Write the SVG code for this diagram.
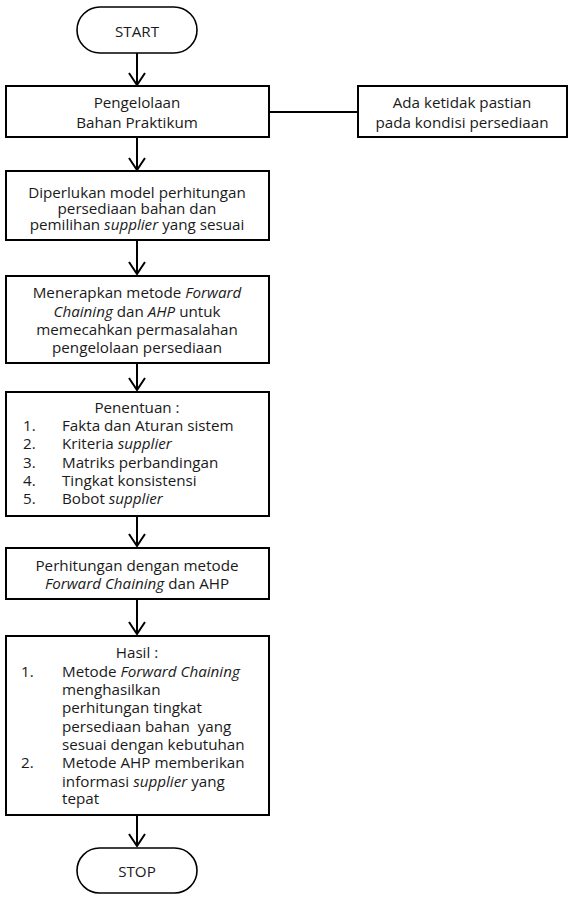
<svg xmlns="http://www.w3.org/2000/svg" width="569" height="897" viewBox="0 0 569 897">
<defs>
<style>
.box{fill:#fff;stroke:#000;stroke-width:2}
.term{fill:#fff;stroke:#000;stroke-width:1.6}
.ln{stroke:#000;stroke-width:2;fill:none}
.arr{stroke:#000;stroke-width:2;fill:none}
text{font-family:"Open Sans","Noto Sans",sans-serif;font-size:15.2px;fill:#1a1a1a}
.c{text-anchor:middle}
.i{font-style:italic}
</style>
<marker id="ah" viewBox="0 0 14 20" refX="13" refY="10" markerWidth="14" markerHeight="20" markerUnits="userSpaceOnUse" orient="auto">
<path d="M1,2 L13,10 L1,18" fill="none" stroke="#000" stroke-width="2"/>
</marker>
</defs>
<rect width="569" height="897" fill="#fff"/>
<g id="connectors">
<line class="arr" x1="137" y1="53" x2="137" y2="85" marker-end="url(#ah)"/>
<line class="arr" x1="137" y1="137" x2="137" y2="170" marker-end="url(#ah)"/>
<line class="arr" x1="137" y1="240" x2="137" y2="274" marker-end="url(#ah)"/>
<line class="arr" x1="137" y1="363" x2="137" y2="390" marker-end="url(#ah)"/>
<line class="arr" x1="137" y1="516" x2="137" y2="546" marker-end="url(#ah)"/>
<line class="arr" x1="137" y1="599" x2="137" y2="634" marker-end="url(#ah)"/>
<line class="arr" x1="137" y1="815" x2="137" y2="846" marker-end="url(#ah)"/>
<line class="ln" x1="269" y1="112" x2="358" y2="112"/>
</g>
<g id="start">
<rect class="term" x="77" y="7" width="120" height="46" rx="23" ry="23"/>
<text class="c" x="137" y="37">START</text>
</g>
<g id="pengelolaan">
<rect class="box" x="6" y="86" width="263" height="51"/>
<text class="c" x="137" y="108">Pengelolaan</text>
<text class="c" x="137" y="128">Bahan Praktikum</text>
</g>
<g id="ketidakpastian">
<rect class="box" x="358" y="86" width="209" height="51"/>
<text class="c" x="462" y="108">Ada ketidak pastian</text>
<text class="c" x="462" y="128">pada kondisi persediaan</text>
</g>
<g id="model">
<rect class="box" x="6" y="171" width="263" height="69"/>
<text class="c" x="137" y="198">Diperlukan model perhitungan</text>
<text class="c" x="137" y="214">persediaan bahan dan</text>
<text class="c" x="137" y="230">pemilihan <tspan class="i">supplier</tspan> yang sesuai</text>
</g>
<g id="metode">
<rect class="box" x="6" y="276" width="263" height="87"/>
<text class="c" x="137" y="298">Menerapkan metode <tspan class="i">Forward</tspan></text>
<text class="c" x="137" y="317"><tspan class="i">Chaining</tspan> dan <tspan class="i">AHP</tspan> untuk</text>
<text class="c" x="137" y="335">memecahkan permasalahan</text>
<text class="c" x="137" y="353">pengelolaan persediaan</text>
</g>
<g id="penentuan">
<rect class="box" x="6" y="392" width="263" height="124"/>
<text class="c" x="137" y="413">Penentuan :</text>
<text x="23" y="431">1.</text><text x="62" y="431">Fakta dan Aturan sistem</text>
<text x="23" y="449">2.</text><text x="62" y="449">Kriteria <tspan class="i">supplier</tspan></text>
<text x="23" y="468">3.</text><text x="62" y="468">Matriks perbandingan</text>
<text x="23" y="486">4.</text><text x="62" y="486">Tingkat konsistensi</text>
<text x="23" y="504">5.</text><text x="62" y="504">Bobot <tspan class="i">supplier</tspan></text>
</g>
<g id="perhitungan">
<rect class="box" x="6" y="548" width="263" height="51"/>
<text class="c" x="137" y="571">Perhitungan dengan metode</text>
<text class="c" x="137" y="589"><tspan class="i">Forward Chaining</tspan> dan AHP</text>
</g>
<g id="hasil">
<rect class="box" x="6" y="636" width="263" height="179"/>
<text class="c" x="137" y="658">Hasil :</text>
<text x="21" y="677">1.</text><text x="62" y="677">Metode <tspan class="i">Forward Chaining</tspan></text>
<text x="62" y="695">menghasilkan</text>
<text x="62" y="713">perhitungan tingkat</text>
<text x="62" y="732" xml:space="preserve">persediaan bahan  yang</text>
<text x="62" y="750">sesuai dengan kebutuhan</text>
<text x="21" y="768">2.</text><text x="62" y="768">Metode AHP memberikan</text>
<text x="62" y="787">informasi <tspan class="i">supplier</tspan> yang</text>
<text x="62" y="804">tepat</text>
</g>
<g id="stop">
<rect class="term" x="77" y="848" width="120" height="45" rx="22.5" ry="22.5"/>
<text class="c" x="137" y="877">STOP</text>
</g>
</svg>
